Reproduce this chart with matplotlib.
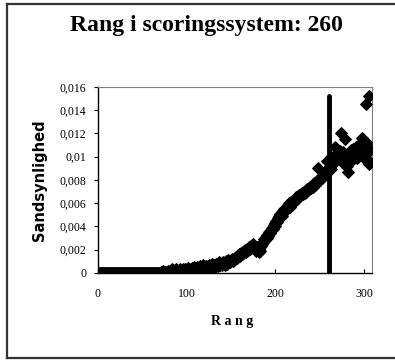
import matplotlib
matplotlib.use("Agg")
import matplotlib.pyplot as plt
from matplotlib.lines import Line2D
from matplotlib.ticker import FuncFormatter

# rank in scoring system and the estimated probability for each rank
probability = [
    0, 0, 0, 0, 0, 0, 0, 0, 0, 0,
    0, 0, 0, 0, 0, 0, 0, 0, 0, 0,
    0, 0, 0, 0, 0, 0, 0, 0, 0, 0,
    0, 0, 0, 0, 0, 0, 0, 0, 0, 0,
    0, 0, 0, 0, 0, 0, 0, 0, 0, 0,
    0, 0, 0, 0, 0, 0, 0, 0, 0, 0,
    0, 0, 0, 0, 0, 0, 0, 0, 0, 0,
    0.00005, 0.0001, 0.0002, 0.0001, 0.00005, 0.0001, 0.00008, 0.00012, 0.0002, 0.0001,
    0.00015, 0.0002, 0.0003, 0.0002, 0.00015, 0.0001, 0.00025, 0.0003, 0.0002, 0.00015,
    0.0002, 0.0003, 0.00025, 0.0002, 0.0001, 0.0003, 0.0002, 0.00035, 0.0002, 0.0003,
    0.00025, 0.0004, 0.0003, 0.0002, 0.00035, 0.0004, 0.0003, 0.0005, 0.00035, 0.0003,
    0.0004, 0.0005, 0.0003, 0.0004, 0.0006, 0.0005, 0.0004, 0.0007, 0.0006, 0.0004,
    0.0005, 0.0006, 0.0004, 0.0005, 0.0007, 0.0006, 0.0005, 0.0006, 0.0008, 0.0006,
    0.0007, 0.0005, 0.0008, 0.0007, 0.0006, 0.0008, 0.0009, 0.0007, 0.0008, 0.0007,
    0.0009, 0.0008, 0.0007, 0.001, 0.0009, 0.0008, 0.0011, 0.001, 0.0009, 0.0011,
    0.0012, 0.001, 0.0011, 0.0013, 0.0012, 0.0014, 0.0013, 0.0015, 0.0016, 0.0015,
    0.0017, 0.0016, 0.0018, 0.0017, 0.0019, 0.002, 0.0018, 0.0021, 0.002, 0.0022,
    0.0021, 0.0023, 0.0022, 0.0024, 0.0025, 0.0023, 0.0021, 0.0019, 0.0022, 0.002,
    0.0018, 0.0021, 0.0019, 0.0023, 0.0025, 0.0027, 0.0029, 0.0028, 0.0031, 0.003,
    0.0033, 0.0032, 0.0035, 0.0034, 0.0037, 0.0039, 0.0038, 0.0041, 0.004, 0.0043,
    0.0045, 0.0044, 0.0047, 0.0049, 0.0051, 0.005, 0.0052, 0.0049, 0.0053, 0.0055,
    0.0054, 0.0056, 0.0055, 0.0058, 0.006, 0.0057, 0.0059, 0.0061, 0.006, 0.0062,
    0.0061, 0.0063, 0.0065, 0.0064, 0.0066, 0.0065, 0.0067, 0.0066, 0.0068, 0.0069,
    0.0068, 0.007, 0.0069, 0.0071, 0.007, 0.0072, 0.0071, 0.0073, 0.0074, 0.0073,
    0.0075, 0.0074, 0.0076, 0.0077, 0.0076, 0.0078, 0.0079, 0.009, 0.0081, 0.008,
    0.0082, 0.0083, 0.0082, 0.0084, 0.0085, 0.0087, 0.0086, 0.0096, 0.0088, 0.0089,
    0.009, 0.0092, 0.0089, 0.0094, 0.0095, 0.0098, 0.0108, 0.0096, 0.01, 0.0103,
    0.0099, 0.0102, 0.0105, 0.012, 0.0098, 0.0104, 0.0094, 0.0115, 0.0101, 0.0097,
    0.0092, 0.0087, 0.01, 0.0095, 0.0106, 0.0103, 0.0098, 0.0107, 0.0101, 0.0104,
    0.0108, 0.0099, 0.0106, 0.011, 0.0103, 0.0112, 0.0109, 0.0116, 0.0104, 0.0108,
    0.0098, 0.0145, 0.0112, 0.0097, 0.0152, 0.0094, 0.0106,
]
rank = list(range(1, len(probability) + 1))

marked_rank = 260
marked_top = 0.0152

y_ticks = [0, 0.002, 0.004, 0.006, 0.008, 0.01, 0.012, 0.014, 0.016]
x_ticks = [0, 100, 200, 300]

fig = plt.figure(figsize=(3.95, 3.62), dpi=100)
ax = fig.add_axes([0.248, 0.246, 0.694, 0.514])

ax.scatter(rank, probability, marker="D", s=34, color="black", zorder=3)
ax.plot([marked_rank, marked_rank], [0, marked_top], color="black",
        linewidth=3.5, solid_capstyle="round", zorder=4)

ax.set_xlim(0, 309)
ax.set_ylim(0, 0.016)
ax.set_xticks(x_ticks)
ax.set_yticks(y_ticks)
ax.yaxis.set_major_formatter(FuncFormatter(
    lambda v, p: "0" if v == 0 else ("%g" % round(v, 4)).replace(".", ",")))

for lab in ax.get_xticklabels() + ax.get_yticklabels():
    lab.set_fontfamily("Liberation Serif")
    lab.set_fontsize(8.5)
ax.tick_params(axis="x", direction="in", length=3, width=0.8, pad=11)
ax.tick_params(axis="y", direction="out", length=3, width=0.8, pad=5.5)

for s in ["top", "right"]:
    ax.spines[s].set_color("#808080")
    ax.spines[s].set_linewidth(0.8)
for s in ["left", "bottom"]:
    ax.spines[s].set_linewidth(1.0)

fig.text(206 / 395, 1 - 31 / 362, "Rang i scoringssystem: 260",
         family="Liberation Serif", weight="bold", fontsize=17,
         ha="center", va="baseline")
fig.text(232 / 395, 1 - 322 / 362, "R a n g", family="Liberation Serif",
         weight="bold", fontsize=10, ha="center", va="center")
fig.text(40 / 395, 1 - 180 / 362, "Sandsynlighed", family="DejaVu Sans",
         weight="bold", fontsize=10.5, rotation=90, ha="center", va="center")

# outer chart frame (right side falls outside the picture)
frame = dict(color="#333333", linewidth=1.6, transform=fig.transFigure)
fig.add_artist(Line2D([7 / 395, 1], [1 - 4 / 362, 1 - 4 / 362], **frame))
fig.add_artist(Line2D([7 / 395, 1], [1 - 358 / 362, 1 - 358 / 362], **frame))
fig.add_artist(Line2D([7 / 395, 7 / 395], [1 - 4 / 362, 1 - 358 / 362], **frame))

fig.savefig("out.png", dpi=100)
